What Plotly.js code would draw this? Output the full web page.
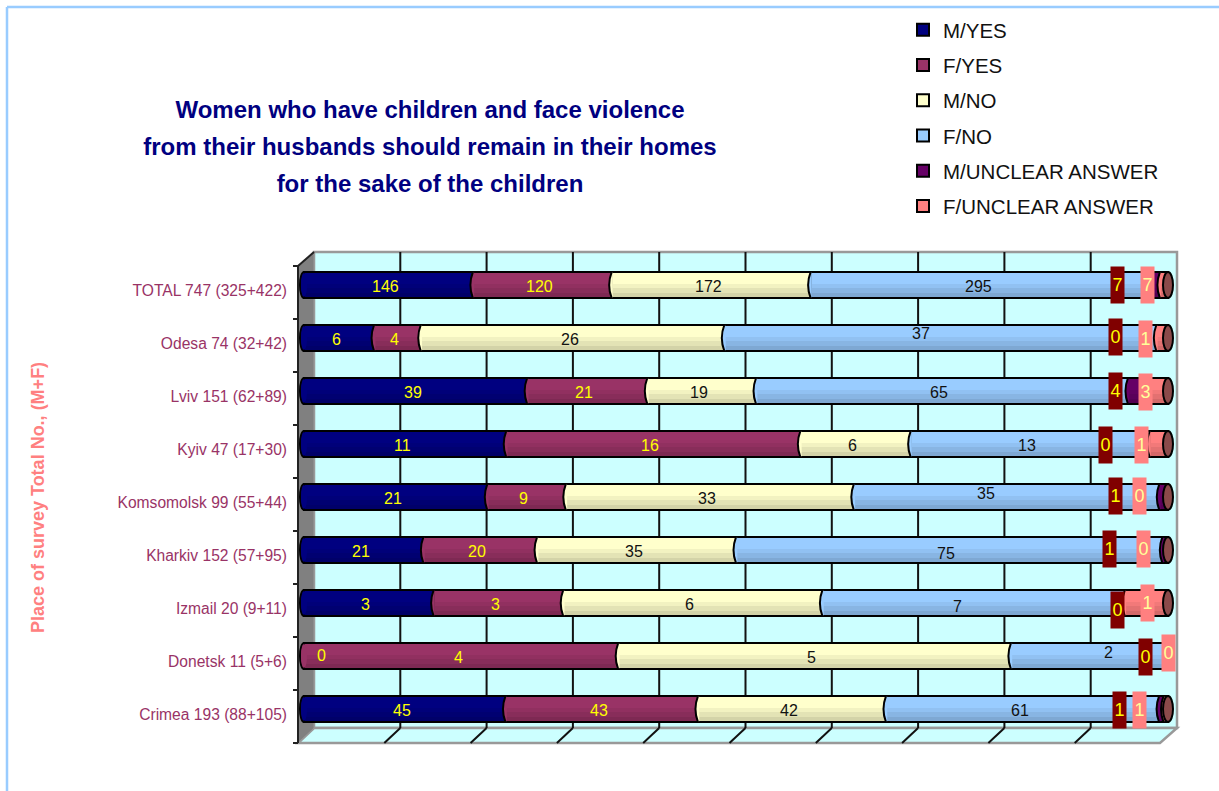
<!DOCTYPE html>
<html>
<head>
<meta charset="utf-8">
<script src="https://cdn.plot.ly/plotly-3.0.1.min.js"></script>
<style>html,body{margin:0;padding:0;background:#fff;overflow:hidden}</style>
</head>
<body>
<div id="chart" style="width:1219px;height:791px"></div>
<script>
// ---- data (bottom row first) ----
var places = ["Crimea 193 (88+105)","Donetsk 11 (5+6)","Izmail 20 (9+11)","Kharkiv 152 (57+95)","Komsomolsk 99 (55+44)","Kyiv 47 (17+30)","Lviv 151 (62+89)","Odesa 74 (32+42)","TOTAL 747 (325+422)"];
var seriesNames = ["M/YES","F/YES","M/NO","F/NO","M/UNCLEAR ANSWER","F/UNCLEAR ANSWER"];
var mYes      = [45,0,3,21,21,11,39,6,146];
var fYes      = [43,4,3,20,9,16,21,4,120];
var mNo       = [42,5,6,35,33,6,19,26,172];
var fNo       = [61,2,7,75,35,13,65,37,295];
var mUnclear  = [1,0,0,1,1,0,4,0,7];
var fUnclear  = [1,0,1,0,0,1,3,1,7];
var seriesValues = [mYes,fYes,mNo,fNo,mUnclear,fUnclear];
var seriesColors = ["#000080","#993366","#FFFFCC","#99CCFF","#660066","#FF8080"];
var labelColors  = ["#FFFF00","#FFFF00","#111111","#111111","#FFFF00","#FFFF99"];

// ---- layout helpers: screen pixel <-> axis value ----
var W=1219,H=791,L=290,R=1185,T=245,B=750;
var ux=8.64, uy=53, x0px=304, y0px=709;
function X(p){return (p-x0px)/ux;}
function Y(p){return (y0px-p)/uy;}
var idx = places.map(function(_,i){return i;});
var barW = 0.49;

var data=[];
seriesValues.forEach(function(v,s){
  data.push({type:"bar",orientation:"h",name:seriesNames[s],x:v,y:idx,width:barW,
    legendgroup:"g"+s,hoverinfo:"name+x",
    marker:{color:seriesColors[s],line:{color:"#000",width:2}}});
});
// shading bands to give the cylinders their stepped gradient
[["y2",-0.225,0.24,0.05],["y3",-0.225,0.16,0.06],["y4",-0.225,0.08,0.07]].forEach(function(b){
  seriesValues.forEach(function(v,s){
    data.push({type:"bar",orientation:"h",x:v,y:idx,yaxis:b[0],width:b[2],offset:b[1],
      showlegend:false,hoverinfo:"skip",
      marker:{color:"rgba(0,0,0,"+b[3]+")",line:{width:0}}});
  });
});

// ---- shapes: 3D frame ----
var shapes=[];
function poly(pts,fill,lineCol,lineW,layer){
  var d=pts.map(function(p,i){return (i?"L":"M")+X(p[0])+","+Y(p[1]);}).join(" ")+" Z";
  shapes.push({type:"path",path:d,xref:"x",yref:"y",fillcolor:fill,layer:layer||"below",
    line:{color:lineCol,width:lineW}});
}
function seg(x1,y1,x2,y2,c,w,layer){
  shapes.push({type:"line",xref:"x",yref:"y",x0:X(x1),y0:Y(y1),x1:X(x2),y1:Y(y2),
    layer:layer||"below",line:{color:c,width:w}});
}
function frame(x1,y1,x2,y2){
  shapes.push({type:"line",xref:"paper",yref:"paper",
    x0:(x1-L)/(R-L),x1:(x2-L)/(R-L),y0:(B-y1)/(B-T),y1:(B-y2)/(B-T),
    layer:"below",line:{color:"#99CCFF",width:2.5}});
}
poly([[314,252],[1177,252],[1177,728],[314,728]],"#CCFFFF","#999999",2.5);
poly([[298,743],[314,728],[1177,728],[1160,743]],"#CCFFFF","#999999",2.5);
poly([[298,266],[314,252],[314,728],[298,743]],"#808080","#999999",1);
for(var g=1;g<10;g++){
  var gx=314+g*86.3;
  seg(gx,252,gx,728,"#111",2);
  seg(gx-16,743,gx,728,"#111",2);
}
seg(298,266,298,743,"#222",2);
seg(298,266,314,252,"#222",2);
for(var t=0;t<10;t++){ seg(293,266+t*53,298,266+t*53,"#222",2); }
// outer frame
frame(7,7,1219,7);
frame(7,7,7,791);

// cylinder ends and curved joints, placed from the stacked values
idx.forEach(function(i){
  var first=seriesValues.findIndex(function(v){return v[i]>0;});
  var h=barW/2, tot=0, run=0;
  seriesValues.forEach(function(v){tot+=v[i];});
  shapes.push({type:"circle",xref:"x",yref:"y",x0:X(300),x1:X(308),y0:i-h,y1:i+h,layer:"below",
    fillcolor:seriesColors[first],line:{color:"#000",width:2}});
  shapes.push({type:"circle",xref:"x",yref:"y",x0:X(301),x1:X(307),y0:i-h+0.02,y1:i+h-0.02,layer:"above",
    fillcolor:seriesColors[first],line:{width:0}});
  seriesValues.forEach(function(v,s){
    if(v[i]>0 && s!==first){
      var b=run/tot*100, ctrl=b-5/ux, edge=b+1.3/ux, top=i+h-0.015, bot=i-h+0.015;
      shapes.push({type:"path",xref:"x",yref:"y",layer:"above",fillcolor:seriesColors[s],line:{width:0},
        path:"M"+edge+","+top+" L"+b+","+top+" Q"+ctrl+","+i+" "+b+","+bot+" L"+edge+","+bot+" Z"});
      shapes.push({type:"path",xref:"x",yref:"y",layer:"above",line:{color:"#000",width:2},
        path:"M"+b+","+(i+h)+" Q"+ctrl+","+i+" "+b+","+(i-h)});
    }
    run+=v[i];
  });
  if(seriesValues[4][i]+seriesValues[5][i]>0){
    shapes.push({type:"circle",xref:"x",yref:"y",x0:X(1163),x1:X(1173),y0:i-h,y1:i+h,layer:"above",
      fillcolor:"#8B4A4A",line:{color:"#000",width:2}});
  }
});

// ---- value labels ----
var nudges={ "7,3":[-16,-6], "4,3":[-18,-5], "1,3":[22,-5], "1,0":[20,-2], "2,3":[-13,2], "3,3":[0,2] };
var boxX={4:[1119,1145,1117,1109,1115,1105,1115,1115,1117],
          5:[1139,1168,1147,1143,1139,1141,1145,1145,1147]};
var boxY={4:[710,657,610,549,496,445,391,337,285],
          5:[710,653,603,549,496,445,392,339,285]};
var boxFill={4:"#800000",5:"#FF8080"};
var annotations=[];
idx.forEach(function(i){
  var tot=0,run=0;
  seriesValues.forEach(function(v){tot+=v[i];});
  seriesValues.forEach(function(v,s){
    var val=v[i];
    if(s>=4){
      annotations.push({xref:"x",yref:"y",x:X(boxX[s][i]),y:Y(boxY[s][i]),text:String(val),showarrow:false,
        width:13,height:36,bgcolor:boxFill[s],align:"center",valign:"middle",borderpad:0,
        font:{family:"Liberation Sans",size:18,color:labelColors[s]}});
    } else {
      var n=nudges[i+","+s]||[0,0];
      annotations.push({xref:"x",yref:"y",x:(run+val/2)/tot*100,y:i,text:String(val),showarrow:false,
        xshift:-3+n[0],yshift:-1-n[1],
        font:{family:"Liberation Sans",size:16,color:labelColors[s]}});
    }
    run+=val;
  });
});

var hiddenAxis=function(){return {overlaying:"y",range:[Y(B),Y(T)],visible:false,fixedrange:true};};
var layout={
  width:W,height:H,paper_bgcolor:"#fff",plot_bgcolor:"rgba(0,0,0,0)",
  margin:{l:L,r:W-R,t:T,b:H-B,pad:0,autoexpand:false},
  barmode:"stack",barnorm:"percent",
  title:{text:'<span style="font-size:24px">Women who have children and face violence</span><br><span style="font-size:24px">from their husbands should remain in their homes</span><br><span style="font-size:24px">for the sake of the children</span>',
    font:{family:"Liberation Sans",size:28.5,color:"#000080",weight:700},
    x:430/W,xanchor:"center",y:1-118/H,yanchor:"top"},
  xaxis:{range:[X(L),X(R)],showgrid:false,zeroline:false,showticklabels:false,ticks:"",showline:false,fixedrange:true},
  yaxis:{range:[Y(B),Y(T)],showgrid:false,zeroline:false,showline:false,ticks:"",fixedrange:true,automargin:false,
    tickmode:"array",tickvals:idx.map(function(i){return i-0.105;}),ticktext:places,ticklabelstandoff:2,
    tickfont:{family:"Liberation Sans",size:15.6,color:"#993366"},
    title:{text:"Place of survey Total No., (M+F)",standoff:68,
      font:{family:"Liberation Sans",size:18,color:"#FF8080",weight:700}}},
  yaxis2:hiddenAxis(),yaxis3:hiddenAxis(),yaxis4:hiddenAxis(),
  legend:{x:903/W,y:1-10/H,xref:"container",yref:"container",xanchor:"left",yanchor:"top",
    traceorder:"grouped",tracegroupgap:5.6,bgcolor:"rgba(0,0,0,0)",itemclick:false,itemdoubleclick:false,
    font:{family:"Liberation Sans",size:20.5,color:"#111"}},
  showlegend:true,
  shapes:shapes,annotations:annotations
};
Plotly.newPlot("chart",data,layout,{displayModeBar:false});
</script>
</body>
</html>
